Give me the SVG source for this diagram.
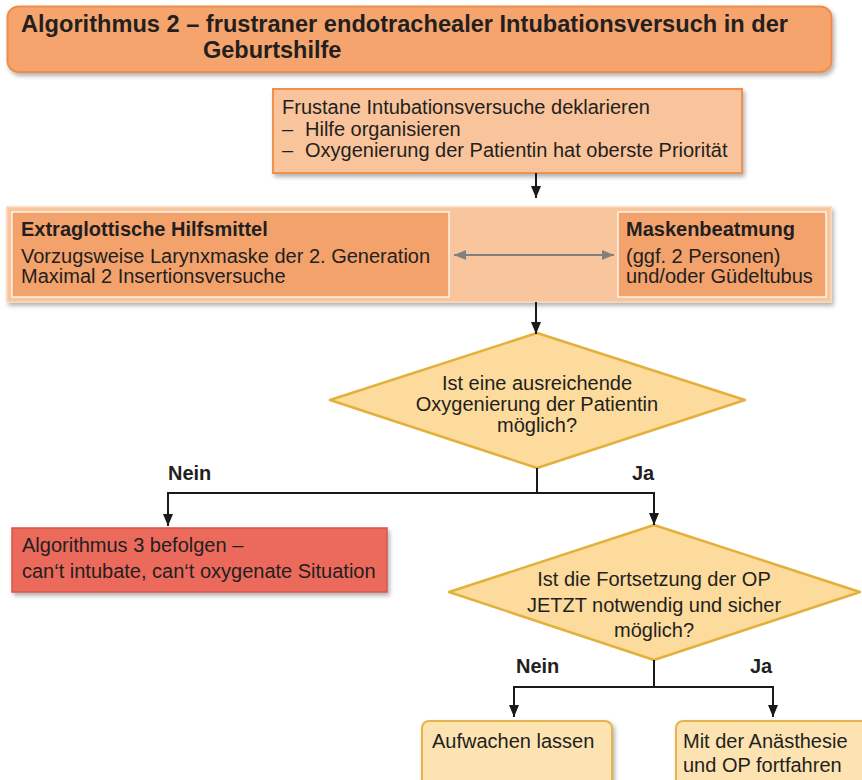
<svg xmlns="http://www.w3.org/2000/svg" width="862" height="780" viewBox="0 0 862 780">
<defs>
<style>
text{font-family:"Liberation Sans",Arial,sans-serif;fill:#231f20;font-size:20px}
.b{font-weight:bold}
.c{text-anchor:middle}
.ln{fill:none;stroke:#1a1a1a;stroke-width:2}
.arr{marker-end:url(#ah)}
.diam{fill:#fcdb9c;stroke:#e4b03c;stroke-width:2.5;stroke-linejoin:round}
.leaf{fill:#fde3b1;stroke:#e6b44c;stroke-width:2}
</style>
<filter id="sh" x="-5%" y="-10%" width="110%" height="130%">
<feDropShadow dx="2" dy="3" stdDeviation="2" flood-color="#000" flood-opacity="0.3"/>
</filter>
<marker id="ah" markerWidth="12" markerHeight="10" refX="12" refY="5" orient="auto" markerUnits="userSpaceOnUse">
<path d="M0,0 L12,5 L0,10 z" fill="#1a1a1a"/>
</marker>
<marker id="gh" markerWidth="12" markerHeight="10" refX="12" refY="5" orient="auto-start-reverse" markerUnits="userSpaceOnUse">
<path d="M0,0 L12,5 L0,10 z" fill="#808080"/>
</marker>
</defs>

<g id="title">
<rect x="7.5" y="6.5" width="824" height="65.5" rx="11" fill="#f5a46d" stroke="#ee8d4c" stroke-width="2" filter="url(#sh)"/>
<text class="b" x="21" y="32" font-size="23.5" textLength="767" lengthAdjust="spacingAndGlyphs" style="font-size:23.5px">Algorithmus 2 – frustraner endotrachealer Intubationsversuch in der</text>
<text class="b" x="203" y="58" style="font-size:23.5px">Geburtshilfe</text>
</g>

<g id="declare">
<rect x="273" y="89" width="469" height="84" fill="#f9c49b" stroke="#ee9150" stroke-width="2" filter="url(#sh)"/>
<text x="282" y="114">Frustane Intubationsversuche deklarieren</text>
<text y="136"><tspan x="282">–</tspan><tspan x="305">Hilfe organisieren</tspan></text>
<text y="157"><tspan x="282">–</tspan><tspan x="305">Oxygenierung der Patientin hat oberste Priorität</tspan></text>
</g>

<g id="options">
<rect x="7" y="207" width="824" height="95" fill="#f9c59d" stroke="#fbd6b8" stroke-width="1.5" filter="url(#sh)"/>
<g id="extraglottic">
<rect x="12" y="212" width="437" height="85" fill="#f4a26c" stroke="#fff3e8" stroke-width="1.5"/>
<text class="b" x="21" y="236">Extraglottische Hilfsmittel</text>
<text x="21" y="263">Vorzugsweise Larynxmaske der 2. Generation</text>
<text x="21" y="283">Maximal 2 Insertionsversuche</text>
</g>
<g id="mask">
<rect x="618" y="212" width="208" height="85" fill="#f4a26c" stroke="#fff3e8" stroke-width="1.5"/>
<text class="b" x="626" y="236">Maskenbeatmung</text>
<text x="626" y="263">(ggf. 2 Personen)</text>
<text x="626" y="283">und/oder Güdeltubus</text>
</g>
</g>

<g id="q1">
<polygon class="diam" points="537,333 745,400 537,468 330,400"/>
<text class="c" x="537" y="390">Ist eine ausreichende</text>
<text class="c" x="537" y="411">Oxygenierung der Patientin</text>
<text class="c" x="537" y="432">möglich?</text>
</g>

<g id="algo3">
<rect x="12" y="528" width="375" height="64" fill="#eb6b5b" stroke="#d6544a" stroke-width="1.5" filter="url(#sh)"/>
<text x="22" y="552">Algorithmus 3 befolgen –</text>
<text x="22" y="578">can‘t intubate, can‘t oxygenate Situation</text>
</g>

<g id="q2">
<polygon class="diam" points="654,525 860,592 654,660 449,592"/>
<text class="c" x="654" y="586">Ist die Fortsetzung der OP</text>
<text class="c" x="654" y="612">JETZT notwendig und sicher</text>
<text class="c" x="654" y="637">möglich?</text>
</g>

<g id="wake">
<rect class="leaf" x="422" y="721" width="190" height="70" rx="7" filter="url(#sh)"/>
<text x="432" y="748">Aufwachen lassen</text>
</g>

<g id="continue">
<rect class="leaf" x="676" y="721" width="200" height="70" rx="7" filter="url(#sh)"/>
<text x="683" y="748">Mit der Anästhesie</text>
<text x="683" y="772">und OP fortfahren</text>
</g>

<g id="connectors">
<line class="ln arr" x1="536" y1="173" x2="536" y2="198"/>
<line x1="454" y1="255" x2="614" y2="255" stroke="#808080" stroke-width="2" marker-start="url(#gh)" marker-end="url(#gh)"/>
<line class="ln arr" x1="536" y1="302" x2="536" y2="334"/>
<polyline class="ln" points="537,468 537,493"/>
<polyline class="ln arr" points="537,493 168,493 168,526"/>
<polyline class="ln arr" points="537,493 654,493 654,525"/>
<polyline class="ln" points="654,660 654,687"/>
<polyline class="ln arr" points="654,687 514,687 514,717"/>
<polyline class="ln arr" points="654,687 773,687 773,717"/>
<text class="b" x="168" y="480">Nein</text>
<text class="b" x="632" y="480">Ja</text>
<text class="b" x="516" y="673">Nein</text>
<text class="b" x="750" y="673">Ja</text>
</g>
</svg>
